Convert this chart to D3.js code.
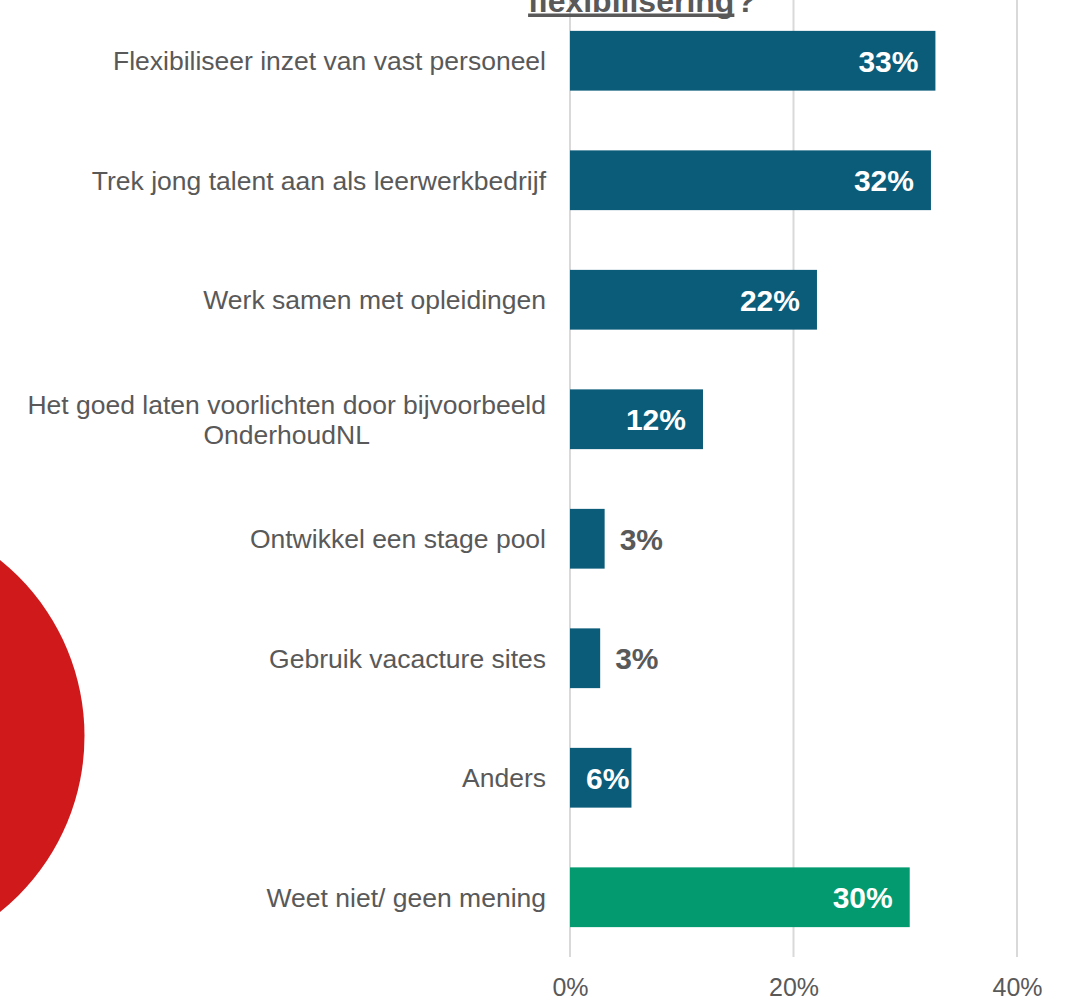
<!DOCTYPE html>
<html>
<head>
<meta charset="utf-8">
<script src="https://cdn.jsdelivr.net/npm/d3@7"></script>
<style>
  html, body { margin: 0; padding: 0; background: #ffffff; }
  svg { display: block; font-family: "Liberation Sans", Arial, sans-serif; }
</style>
</head>
<body>
<svg id="chart" width="1071" height="1002"></svg>
<script>
// Survey answers (share of respondents, %)
const categories = [
  "Flexibiliseer inzet van vast personeel",
  "Trek jong talent aan als leerwerkbedrijf",
  "Werk samen met opleidingen",
  "Het goed laten voorlichten door bijvoorbeeld OnderhoudNL",
  "Ontwikkel een stage pool",
  "Gebruik vacacture sites",
  "Anders",
  "Weet niet/ geen mening"
];
const values = [32.7, 32.3, 22.1, 11.9, 3.1, 2.7, 5.5, 30.4];
const neutralAnswer = "Weet niet/ geen mening";
const xTicks = [0, 20, 40];
const titleLastLine = "flexibilisering";

const svg = d3.select("#chart");
const textColor = "#595959";
const barColor = "#0b5c79";
const neutralColor = "#049a6f";

const plot = { left: 570, right: 1017, top: 1, bottom: 957 };

const x = d3.scaleLinear().domain([0, 40]).range([plot.left, plot.right]);
const y = d3.scaleBand().domain(categories).range([plot.top, plot.bottom]).paddingInner(0.5).paddingOuter(0.25);

// decorative red disc at the left edge
svg.append("circle")
  .attr("cx", -141).attr("cy", 736).attr("r", 225.5)
  .attr("fill", "#cf191b");

// vertical gridlines
svg.append("g").selectAll("line")
  .data(xTicks)
  .join("line")
  .attr("x1", d => x(d)).attr("x2", d => x(d))
  .attr("y1", 0).attr("y2", plot.bottom)
  .attr("stroke", "#d9d9d9").attr("stroke-width", 2);

// x axis tick labels
const xAxis = d3.axisBottom(x).tickValues(xTicks).tickFormat(d => d + "%").tickSize(0).tickPadding(0);
const gx = svg.append("g").attr("transform", `translate(0, ${plot.bottom})`).call(xAxis);
gx.select(".domain").remove();
gx.selectAll("text")
  .attr("dy", null)
  .attr("y", 39)
  .attr("fill", textColor)
  .style("font-size", "25px")
  .style("font-family", "'Liberation Sans', Arial, sans-serif");

// bars
const defs = svg.append("defs");
const rows = categories.map((c, i) => ({ cat: c, value: values[i], i }));

rows.forEach(r => {
  defs.append("clipPath").attr("id", "clip" + r.i)
    .append("rect")
    .attr("x", x(0)).attr("y", y(r.cat))
    .attr("width", x(r.value) - x(0)).attr("height", y.bandwidth());
});

svg.append("g").selectAll("rect")
  .data(rows)
  .join("rect")
  .attr("x", x(0))
  .attr("y", d => y(d.cat))
  .attr("width", d => x(d.value) - x(0))
  .attr("height", y.bandwidth())
  .attr("fill", d => d.cat === neutralAnswer ? neutralColor : barColor);

// value labels: inside the bar end when wide enough, else just past it
const fmt = v => Math.round(v) + "%";
const labels = svg.append("g");
rows.forEach(r => {
  const cy = y(r.cat) + y.bandwidth() / 2;
  const t = labels.append("text")
    .attr("y", cy)
    .attr("dy", "0.36em")
    .style("font-size", "30px")
    .style("font-weight", "bold")
    .text(fmt(r.value));
  const tw = t.node().getComputedTextLength();
  if (r.value >= 5) {
    const xEnd = Math.max(x(r.value) - 17, x(0) + 16 + tw);
    t.attr("x", xEnd).attr("text-anchor", "end").attr("fill", "#ffffff")
     .attr("clip-path", `url(#clip${r.i})`);
  } else {
    t.attr("x", x(r.value) + 15).attr("text-anchor", "start").attr("fill", textColor);
  }
});

// category labels, wrapped and right-aligned as a centred block
const catG = svg.append("g");
const maxLabelWidth = 530;
const lineH = 30;
rows.forEach(r => {
  const cy = y(r.cat) + y.bandwidth() / 2;
  const probe = catG.append("text").style("font-size", "26.5px");
  const words = r.cat.split(" ");
  const lines = [];
  let cur = "";
  words.forEach(w => {
    const test = cur ? cur + " " + w : w;
    probe.text(test);
    if (probe.node().getComputedTextLength() > maxLabelWidth && cur) {
      lines.push(cur);
      cur = w;
    } else {
      cur = test;
    }
  });
  lines.push(cur);
  const widths = lines.map(l => { probe.text(l); return probe.node().getComputedTextLength(); });
  probe.remove();
  const blockW = d3.max(widths);
  const cx = plot.left - 24 - blockW / 2;
  const t = catG.append("text")
    .attr("text-anchor", "middle")
    .attr("fill", textColor)
    .style("font-size", "26.5px");
  lines.forEach((l, k) => {
    t.append("tspan")
      .attr("x", cx)
      .attr("y", cy + (k - (lines.length - 1) / 2) * lineH)
      .attr("dy", "0.36em")
      .text(l);
  });
});

// title (last line visible at the top)
const titleG = svg.append("g").attr("fill", textColor)
  .style("font-size", "32px").style("font-weight", "bold");
const tMain = titleG.append("text").attr("y", 12).text(titleLastLine);
const tQ = titleG.append("text").attr("y", 12).text("?");
const mainW = tMain.node().getComputedTextLength();
const qW = tQ.node().getComputedTextLength();
const gap = 2;
const titleCenter = 642;
const startX = titleCenter - (mainW + qW + gap) / 2;
tMain.attr("x", startX);
tQ.attr("x", startX + mainW + gap);
titleG.append("rect")
  .attr("x", startX).attr("y", 13.5)
  .attr("width", mainW).attr("height", 3.5);
</script>
</body>
</html>
